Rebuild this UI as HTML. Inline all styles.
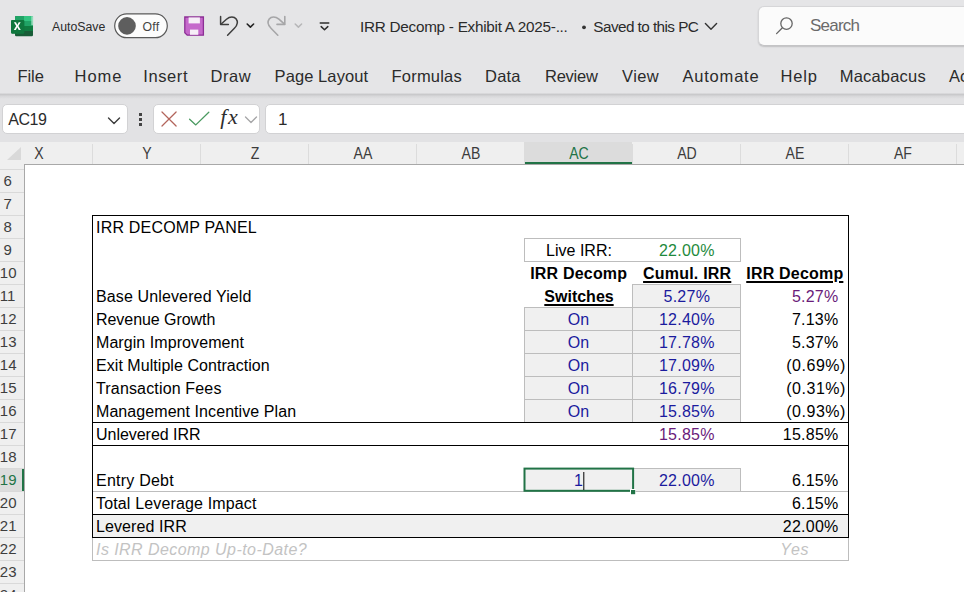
<!DOCTYPE html>
<html>
<head>
<meta charset="utf-8">
<title>IRR Decomp</title>
<style>
html,body{margin:0;padding:0;}
body{width:964px;height:592px;overflow:hidden;background:#e5e5e7;font-family:"Liberation Sans",sans-serif;position:relative;}
.abs{position:absolute;}
.t{position:absolute;white-space:pre;line-height:1;}
/* title bar */
#title{position:absolute;left:0;top:0;width:964px;height:52px;background:#e5e5e7;}
#tabs{position:absolute;left:0;top:52px;width:964px;height:42px;background:#e5e5e7;}
.tab{position:absolute;top:66px;font-size:16.5px;color:#2b2b2b;white-space:pre;line-height:20px;}
.tt{position:absolute;font-size:14.5px;color:#2b2b2b;white-space:pre;line-height:18px;}
/* formula area */
#fbar{position:absolute;left:0;top:94px;width:964px;height:49px;background:#e2e2e4;}
#fshadow{position:absolute;left:0;top:93px;width:964px;height:6px;background:linear-gradient(#e0e0e2,#c9c9cb 25%,#d8d8da 55%,#e2e2e4);}
.box{position:absolute;background:#fff;border:1px solid #d2d2d4;border-radius:5px;box-sizing:border-box;}
/* headers */
#colhdr{position:absolute;left:0;top:142px;width:964px;height:22px;background:#efefef;}
#colhdrline{position:absolute;left:24px;top:164px;width:940px;height:1px;background:#a8a8a8;}
.ch{position:absolute;top:0;height:22px;font-size:16px;color:#3c3c3c;text-align:center;line-height:23px;padding-left:1px;transform:scaleX(0.88);transform-origin:50% 50%;}
.cdiv{position:absolute;top:2px;width:1px;height:20px;background:#dcdcdc;}
#rowhdr{position:absolute;left:0;top:164px;width:24px;height:428px;background:#efefef;border-right:1px solid #a8a8a8;}
.rh{position:absolute;left:0;width:24px;font-size:15px;color:#3e3e3e;line-height:22.8px;height:23px;text-align:left;}
.rdiv{position:absolute;left:0;width:24px;height:1px;background:#d9d9d9;}
#grid{position:absolute;left:25px;top:165px;width:939px;height:427px;background:#fff;overflow:hidden;}
/* cells: coordinates relative to body */
.c{position:absolute;font-size:16px;line-height:23px;height:23px;white-space:pre;color:#000;}
.r{text-align:right;}
.m{text-align:center;}
.blue{color:#1b1b9e;}
.purple{color:#6a1b7a;}
.hl{position:absolute;height:1px;}
.vl{position:absolute;width:1px;}
</style>
</head>
<body>
<div id="title"></div>
<div id="tabs"></div>
<div id="fbar"></div>
<div id="fshadow"></div>

<!-- Excel icon -->
<svg class="abs" style="left:10px;top:14px" width="26" height="24" viewBox="0 0 26 24">
  <rect x="5" y="2" width="18" height="20.2" rx="1.3" fill="#185c37"/>
  <path d="M5 3.3 A1.3 1.3 0 0 1 6.3 2 H14 V7 H5 Z" fill="#21a366"/>
  <path d="M14 2 H21.7 A1.3 1.3 0 0 1 23 3.3 V7 H14 Z" fill="#33c481"/>
  <rect x="5" y="7" width="9" height="5" fill="#107c41"/>
  <rect x="14" y="7" width="9" height="5" fill="#21a366"/>
  <rect x="5" y="12" width="9" height="5" fill="#185c37"/>
  <rect x="14" y="12" width="9" height="5" fill="#107c41"/>
  <rect x="21.3" y="2.2" width="1.9" height="9" fill="#a5e3c6" opacity="0.85"/>
  <rect x="1" y="6" width="13.3" height="13.7" rx="1.1" fill="#107c41"/>
  <rect x="1" y="6" width="13.3" height="13.7" rx="1.1" fill="#0e6f3a" opacity="0.35"/>
  <path d="M3.9 8.3 L6 8.3 L7.3 11 L8.7 8.3 L10.7 8.3 L8.4 12.1 L10.8 16 L8.7 16 L7.3 13.3 L5.9 16 L3.8 16 L6.2 12.1 Z" fill="#fff"/>
</svg>

<span class="tt" style="left:52px;top:17.8px;font-size:12.3px;letter-spacing:0px;">AutoSave</span>

<!-- title bar icons (pixel coords) -->
<svg class="abs" style="left:0;top:0" width="964" height="52" viewBox="0 0 964 52">
  <!-- toggle -->
  <rect x="114.7" y="13.9" width="52.6" height="23.8" rx="11.9" fill="#fcfcfc" stroke="#5a5a5a" stroke-width="1.2"/>
  <circle cx="127" cy="25.9" r="8.8" fill="#5e5e5e"/>
  <!-- save -->
  <path d="M184.8 17 H203.4 V35.2 H187.2 L184.8 32.8 Z" fill="#c568cb" stroke="#8c2f95" stroke-width="1.3" stroke-linejoin="miter"/>
  <rect x="188.6" y="17.4" width="11.3" height="6" fill="#f6eef7"/>
  <rect x="190" y="29.6" width="8.3" height="5.2" fill="#f6eef7"/>
  <!-- undo -->
  <path d="M220.6 16.6 V24.4 H228.4" fill="none" stroke="#3e3e3e" stroke-width="1.5" stroke-linecap="round" stroke-linejoin="round"/>
  <path d="M220.9 24.2 L226.5 19.2 C230 16.2 234.2 16.4 236.2 19 C238.4 22 237.4 25.2 234.4 28.2 L227.6 35.2" fill="none" stroke="#3e3e3e" stroke-width="1.5" stroke-linecap="round" stroke-linejoin="round"/>
  <path d="M247.2 24 L250.4 27.1 L253.6 24" fill="none" stroke="#222" stroke-width="1.6" stroke-linecap="round" stroke-linejoin="round"/>
  <!-- redo -->
  <path d="M284.8 16.6 V24.4 H277" fill="none" stroke="#a6a6a8" stroke-width="1.6" stroke-linecap="round" stroke-linejoin="round"/>
  <path d="M284.5 24.2 L278.9 19.2 C275.4 16.2 271.2 16.4 269.2 19 C267 22 268 25.2 271 28.2 L277.8 35.2" fill="none" stroke="#a6a6a8" stroke-width="1.6" stroke-linecap="round" stroke-linejoin="round"/>
  <path d="M295.2 24 L298.4 27.1 L301.6 24" fill="none" stroke="#b6b6b8" stroke-width="1.5" stroke-linecap="round" stroke-linejoin="round"/>
  <!-- customize -->
  <path d="M320.2 23 H328.8" stroke="#2e2e2e" stroke-width="1.4" stroke-linecap="round"/>
  <path d="M321.2 26.6 L324.5 29.8 L327.8 26.6" fill="none" stroke="#2e2e2e" stroke-width="1.5" stroke-linecap="round" stroke-linejoin="round"/>
  <circle cx="584" cy="27.3" r="1.9" fill="#333"/>
  <!-- saved chevron -->
  <path d="M705.4 23.6 L711 29.2 L716.6 23.6" fill="none" stroke="#333" stroke-width="1.4" stroke-linecap="round" stroke-linejoin="round"/>
</svg>

<span class="tt" style="left:142.6px;top:17.8px;color:#444;font-size:12.3px;letter-spacing:0.2px;">Off</span>
<span class="tt" style="left:360px;top:17.6px;font-size:15.3px;letter-spacing:-0.27px;">IRR Decomp - Exhibit A 2025-...</span>
<span class="tt" style="left:593.3px;top:17.6px;font-size:15.3px;letter-spacing:-0.56px;">Saved to this PC</span>

<!-- search box -->
<div class="abs" style="left:758px;top:6px;width:220px;height:40px;background:#fbfbfb;border:1px solid #d6d6d8;border-bottom-color:#c4c4c6;border-radius:6px;box-sizing:border-box;box-shadow:0 1px 1.5px rgba(0,0,0,0.16);"></div>
<svg class="abs" style="left:774px;top:15px" width="22" height="22" viewBox="0 0 22 22">
  <circle cx="12.5" cy="8.6" r="5.7" fill="none" stroke="#666" stroke-width="1.3"/>
  <path d="M8.4 12.8 L2.6 18.6" stroke="#666" stroke-width="1.3" stroke-linecap="round"/>
</svg>
<span class="tt" style="left:810px;top:15.7px;font-size:17px;letter-spacing:-0.78px;color:#6a6a6a;line-height:20px;">Search</span>

<!-- ribbon tabs -->
<span class="tab" style="left:17.4px;letter-spacing:-0.03px;">File</span>
<span class="tab" style="left:74.5px;letter-spacing:1.00px;">Home</span>
<span class="tab" style="left:143.2px;letter-spacing:0.62px;">Insert</span>
<span class="tab" style="left:210.4px;letter-spacing:0.63px;">Draw</span>
<span class="tab" style="left:274.6px;letter-spacing:0.08px;">Page Layout</span>
<span class="tab" style="left:391.6px;letter-spacing:0.19px;">Formulas</span>
<span class="tab" style="left:485.0px;letter-spacing:0.21px;">Data</span>
<span class="tab" style="left:545.0px;letter-spacing:-0.24px;">Review</span>
<span class="tab" style="left:622.1px;letter-spacing:0.33px;">View</span>
<span class="tab" style="left:682.4px;letter-spacing:0.81px;">Automate</span>
<span class="tab" style="left:780.5px;letter-spacing:0.80px;">Help</span>
<span class="tab" style="left:839.7px;letter-spacing:0.20px;">Macabacus</span>
<span class="tab" style="left:949px;letter-spacing:0px;">Ac</span>

<!-- formula bar -->
<div class="box" style="left:2px;top:104px;width:126px;height:30px;"></div>
<span class="t" style="left:8.3px;top:111.5px;font-size:16px;letter-spacing:-0.5px;color:#2b2b2b;">AC19</span>
<svg class="abs" style="left:107.3px;top:115.5px" width="14" height="10" viewBox="0 0 14 10"><path d="M1.5 2 L7 7.5 L12.5 2" fill="none" stroke="#3c3c3c" stroke-width="1.4" stroke-linecap="round" stroke-linejoin="round"/></svg>
<div class="abs" style="left:139px;top:113px;width:3px;height:3px;background:#444;"></div>
<div class="abs" style="left:139px;top:118px;width:3px;height:3px;background:#444;"></div>
<div class="abs" style="left:139px;top:123px;width:3px;height:3px;background:#444;"></div>
<div class="box" style="left:153px;top:104px;width:107px;height:30px;"></div>
<svg class="abs" style="left:150px;top:100px" width="120" height="40" viewBox="150 100 120 40">
  <path d="M162 112 L176.1 126 M176.1 112 L162 126" stroke="#b3655c" stroke-width="1.25" stroke-linecap="round"/>
  <path d="M189.6 119.3 L195.8 124.9 L208.8 112.2" fill="none" stroke="#4a9a60" stroke-width="1.3" stroke-linecap="round" stroke-linejoin="round"/>
</svg>
<span class="t" style="left:220.3px;top:105.8px;font-family:'Liberation Serif',serif;font-style:italic;font-weight:normal;font-size:22px;color:#2e2e2e;letter-spacing:1.6px;">fx</span>
<svg class="abs" style="left:244px;top:115px" width="14" height="10" viewBox="0 0 14 10"><path d="M1.5 2 L7 7.5 L12.5 2" fill="none" stroke="#a5a5a7" stroke-width="1.3" stroke-linecap="round" stroke-linejoin="round"/></svg>
<div class="box" style="left:265px;top:104px;width:720px;height:30px;"></div>
<span class="t" style="left:278px;top:111px;font-size:17px;color:#2b2b2b;">1</span>

<!-- column headers -->
<div id="colhdr">
  <div class="abs" style="left:524px;top:0;width:108px;height:20px;background:#dcdcdc;border-bottom:2px solid #217346;"></div>
  <svg class="abs" style="left:7px;top:5px" width="15" height="14" viewBox="0 0 15 14"><path d="M14 0 V13 H0 Z" fill="#d9d9d9"/></svg>
  <div class="ch" style="left:-16px;width:108px;">X</div>
  <div class="ch" style="left:92px;width:108px;">Y</div>
  <div class="ch" style="left:200px;width:108px;">Z</div>
  <div class="ch" style="left:308px;width:108px;">AA</div>
  <div class="ch" style="left:416px;width:108px;">AB</div>
  <div class="ch" style="left:524px;width:108px;color:#217346;">AC</div>
  <div class="ch" style="left:632px;width:108px;">AD</div>
  <div class="ch" style="left:740px;width:108px;">AE</div>
  <div class="ch" style="left:848px;width:108px;">AF</div>
  <div class="cdiv" style="left:92px"></div><div class="cdiv" style="left:200px"></div><div class="cdiv" style="left:308px"></div>
  <div class="cdiv" style="left:416px"></div><div class="cdiv" style="left:524px"></div><div class="cdiv" style="left:632px"></div>
  <div class="cdiv" style="left:740px"></div><div class="cdiv" style="left:848px"></div><div class="cdiv" style="left:956px"></div>
</div>

<div id="colhdrline"></div>
<!-- row headers -->
<div id="rowhdr">
  <div class="abs" style="left:0;top:304px;width:22px;height:23px;background:#dcdcdc;border-right:2px solid #217346;"></div>
  <div class="rdiv" style="top:5px"></div>
  <div class="rh" style="top:6px;left:3.6px;">6</div><div class="rdiv" style="top:28px"></div>
  <div class="rh" style="top:29px;left:3.6px;">7</div><div class="rdiv" style="top:51px"></div>
  <div class="rh" style="top:52px;left:3.6px;">8</div><div class="rdiv" style="top:74px"></div>
  <div class="rh" style="top:75px;left:3.6px;">9</div><div class="rdiv" style="top:97px"></div>
  <div class="rh" style="top:98px;left:-0.2px;">10</div><div class="rdiv" style="top:120px"></div>
  <div class="rh" style="top:121px;left:-0.2px;">11</div><div class="rdiv" style="top:143px"></div>
  <div class="rh" style="top:144px;left:-0.2px;">12</div><div class="rdiv" style="top:166px"></div>
  <div class="rh" style="top:167px;left:-0.2px;">13</div><div class="rdiv" style="top:189px"></div>
  <div class="rh" style="top:190px;left:-0.2px;">14</div><div class="rdiv" style="top:212px"></div>
  <div class="rh" style="top:213px;left:-0.2px;">15</div><div class="rdiv" style="top:235px"></div>
  <div class="rh" style="top:236px;left:-0.2px;">16</div><div class="rdiv" style="top:258px"></div>
  <div class="rh" style="top:259px;left:-0.2px;">17</div><div class="rdiv" style="top:281px"></div>
  <div class="rh" style="top:282px;left:-0.2px;">18</div><div class="rdiv" style="top:304px"></div>
  <div class="rh" style="top:305px;left:-0.2px;color:#217346;">19</div><div class="rdiv" style="top:327px"></div>
  <div class="rh" style="top:328px;left:-0.2px;">20</div><div class="rdiv" style="top:350px"></div>
  <div class="rh" style="top:351px;left:-0.2px;">21</div><div class="rdiv" style="top:373px"></div>
  <div class="rh" style="top:374px;left:-0.2px;">22</div><div class="rdiv" style="top:396px"></div>
  <div class="rh" style="top:397px;left:-0.2px;">23</div><div class="rdiv" style="top:419px"></div>
  <div class="rh" style="top:420px;left:-0.2px;">24</div>
</div>

<div id="grid"></div>

<!-- PANEL -->
<!-- fills -->
<div class="abs" style="left:93px;top:515px;width:755px;height:22px;background:#f0f0f0;"></div>
<div class="abs" style="left:633px;top:285px;width:107px;height:137px;background:#f0f0f0;"></div>
<div class="abs" style="left:525px;top:308px;width:107px;height:114px;background:#f0f0f0;"></div>
<div class="abs" style="left:525px;top:469px;width:215px;height:22px;background:#f0f0f0;"></div>

<!-- light grey lines -->
<div class="hl" style="left:524px;top:238px;width:217px;background:#bdbdbd;"></div>
<div class="hl" style="left:524px;top:261px;width:217px;background:#bdbdbd;"></div>
<div class="vl" style="left:524px;top:238px;height:24px;background:#bdbdbd;"></div>
<div class="vl" style="left:740px;top:238px;height:24px;background:#bdbdbd;"></div>

<div class="hl" style="left:632px;top:284px;width:109px;background:#bdbdbd;"></div>
<div class="hl" style="left:524px;top:307px;width:217px;background:#bdbdbd;"></div>
<div class="hl" style="left:524px;top:330px;width:217px;background:#bdbdbd;"></div>
<div class="hl" style="left:524px;top:353px;width:217px;background:#bdbdbd;"></div>
<div class="hl" style="left:524px;top:376px;width:217px;background:#bdbdbd;"></div>
<div class="hl" style="left:524px;top:399px;width:217px;background:#bdbdbd;"></div>
<div class="vl" style="left:524px;top:307px;height:115px;background:#bdbdbd;"></div>
<div class="vl" style="left:632px;top:284px;height:138px;background:#bdbdbd;"></div>
<div class="vl" style="left:740px;top:284px;height:138px;background:#bdbdbd;"></div>

<div class="hl" style="left:632px;top:468px;width:109px;background:#bdbdbd;"></div>
<div class="vl" style="left:740px;top:468px;height:24px;background:#bdbdbd;"></div>
<div class="hl" style="left:92px;top:491px;width:757px;background:#bdbdbd;"></div>
<div class="hl" style="left:92px;top:560px;width:757px;background:#bdbdbd;"></div>
<div class="vl" style="left:92px;top:538px;height:23px;background:#bdbdbd;"></div>
<div class="vl" style="left:848px;top:538px;height:23px;background:#bdbdbd;"></div>

<!-- black lines -->
<div class="hl" style="left:92px;top:215px;width:757px;background:#000;"></div>
<div class="vl" style="left:92px;top:215px;height:323px;background:#000;"></div>
<div class="vl" style="left:848px;top:215px;height:323px;background:#000;"></div>
<div class="hl" style="left:92px;top:422px;width:757px;background:#000;"></div>
<div class="hl" style="left:92px;top:445px;width:757px;background:#000;"></div>
<div class="hl" style="left:92px;top:514px;width:757px;background:#000;"></div>
<div class="hl" style="left:92px;top:537px;width:757px;background:#000;"></div>

<!-- text: column Y labels -->
<div class="c" style="left:96px;top:216px;letter-spacing:0.2px;">IRR DECOMP PANEL</div>
<div class="c" style="left:96px;top:285px;letter-spacing:0.13px;">Base Unlevered Yield</div>
<div class="c" style="left:96px;top:308px;letter-spacing:-0.05px;">Revenue Growth</div>
<div class="c" style="left:96px;top:331px;letter-spacing:0.07px;">Margin Improvement</div>
<div class="c" style="left:96px;top:354px;letter-spacing:0.05px;">Exit Multiple Contraction</div>
<div class="c" style="left:96px;top:377px;letter-spacing:0.16px;">Transaction Fees</div>
<div class="c" style="left:96px;top:400px;letter-spacing:0.07px;">Management Incentive Plan</div>
<div class="c" style="left:96px;top:423px;letter-spacing:-0.03px;">Unlevered IRR</div>
<div class="c" style="left:96px;top:469px;letter-spacing:0.23px;">Entry Debt</div>
<div class="c" style="left:96px;top:492px;letter-spacing:0.15px;">Total Leverage Impact</div>
<div class="c" style="left:96px;top:515px;letter-spacing:0.1px;">Levered IRR</div>
<div class="c" style="left:96px;top:538px;color:#c3c3c3;font-style:italic;letter-spacing:0.44px;">Is IRR Decomp Up-to-Date?</div>

<!-- AC column -->
<div class="c m" style="left:525px;width:108px;top:239px;">Live IRR:</div>
<div class="c m" style="left:524.7px;width:108px;top:262px;font-weight:bold;letter-spacing:0.2px;">IRR Decomp</div>
<div class="c m" style="left:525px;width:108px;top:285px;font-weight:bold;text-decoration:underline;text-decoration-thickness:2px;text-underline-offset:1.5px;letter-spacing:0px;">Switches</div>
<div class="c m blue" style="left:524.5px;width:108px;top:308px;">On</div>
<div class="c m blue" style="left:524.5px;width:108px;top:331px;">On</div>
<div class="c m blue" style="left:524.5px;width:108px;top:354px;">On</div>
<div class="c m blue" style="left:524.5px;width:108px;top:377px;">On</div>
<div class="c m blue" style="left:524.5px;width:108px;top:400px;">On</div>

<!-- AD column -->
<div class="c m" style="left:632.8px;width:108px;top:239px;color:#1e8a3c;letter-spacing:0.25px;">22.00%</div>
<div class="c m" style="left:633.2px;width:108px;top:262px;font-weight:bold;text-decoration:underline;text-decoration-thickness:2px;text-underline-offset:1.5px;letter-spacing:0.2px;">Cumul. IRR</div>
<div class="c m blue" style="left:632.8px;width:108px;top:285px;letter-spacing:0.25px;">5.27%</div>
<div class="c m blue" style="left:632.8px;width:108px;top:308px;letter-spacing:0.25px;">12.40%</div>
<div class="c m blue" style="left:632.8px;width:108px;top:331px;letter-spacing:0.25px;">17.78%</div>
<div class="c m blue" style="left:632.8px;width:108px;top:354px;letter-spacing:0.25px;">17.09%</div>
<div class="c m blue" style="left:632.8px;width:108px;top:377px;letter-spacing:0.25px;">16.79%</div>
<div class="c m blue" style="left:632.8px;width:108px;top:400px;letter-spacing:0.25px;">15.85%</div>
<div class="c m purple" style="left:632.8px;width:108px;top:423px;letter-spacing:0.25px;">15.85%</div>
<div class="c m blue" style="left:632.8px;width:108px;top:469px;letter-spacing:0.25px;">22.00%</div>

<!-- AE column -->
<div class="c m" style="left:740.8px;width:108px;top:262px;font-weight:bold;text-decoration:underline;text-decoration-thickness:2px;text-underline-offset:1.5px;letter-spacing:0.2px;">IRR Decomp</div>
<div class="c r purple" style="left:740px;width:98.5px;top:285px;letter-spacing:0.25px;">5.27%</div>
<div class="c r" style="left:740px;width:98.5px;top:308px;letter-spacing:0.25px;">7.13%</div>
<div class="c r" style="left:740px;width:98.5px;top:331px;letter-spacing:0.25px;">5.37%</div>
<div class="c r" style="left:740px;width:106px;top:354px;letter-spacing:0.55px;">(0.69%)</div>
<div class="c r" style="left:740px;width:106px;top:377px;letter-spacing:0.55px;">(0.31%)</div>
<div class="c r" style="left:740px;width:106px;top:400px;letter-spacing:0.55px;">(0.93%)</div>
<div class="c r" style="left:740px;width:98.5px;top:423px;letter-spacing:0.25px;">15.85%</div>
<div class="c r" style="left:740px;width:98.5px;top:469px;letter-spacing:0.25px;">6.15%</div>
<div class="c r" style="left:740px;width:98.5px;top:492px;letter-spacing:0.25px;">6.15%</div>
<div class="c r" style="left:740px;width:98.5px;top:515px;letter-spacing:0.25px;">22.00%</div>
<div class="c r" style="left:740px;width:69.4px;top:538px;color:#c3c3c3;font-style:italic;letter-spacing:0.8px;">Yes</div>

<!-- selected cell AC19 -->
<svg class="abs" style="left:515px;top:460px" width="130" height="40" viewBox="515 460 130 40">
  <rect x="524.5" y="468.6" width="108.6" height="22.2" fill="#f0f0f0" stroke="#217346" stroke-width="2"/>
  <rect x="630" y="489" width="5.6" height="5.6" fill="#fff"/>
  <rect x="631" y="490" width="4.2" height="4.2" fill="#217346"/>
  <rect x="583.3" y="472" width="1" height="18" fill="#000"/>
</svg>
<div class="c r blue" style="left:524px;width:59px;top:469px;">1</div>

</body>
</html>
